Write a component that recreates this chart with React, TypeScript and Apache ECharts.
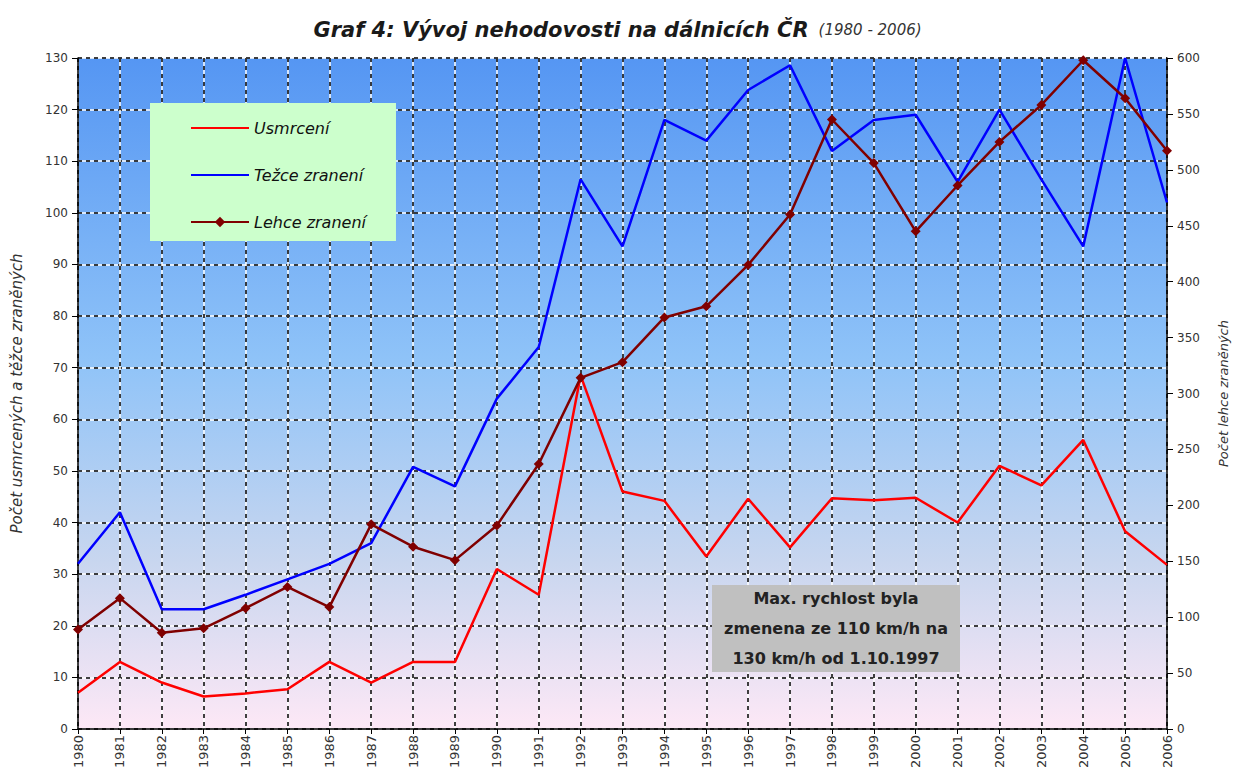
import React, { useEffect, useRef } from "react";
import * as echarts from "echarts";

const years = ["1980","1981","1982","1983","1984","1985","1986","1987","1988","1989","1990","1991","1992","1993","1994","1995","1996","1997","1998","1999","2000","2001","2002","2003","2004","2005","2006"];
const usmrceni = [7, 13, 9, 6.3, 6.9, 7.7, 13, 9, 13, 13, 31, 26, 68.5, 46, 44.2, 33.4, 44.6, 35.2, 44.7, 44.3, 44.8, 40, 51, 47.2, 56, 38.3, 31.8];
const tezce = [32, 42, 23.2, 23.2, 26, 29, 32, 36, 50.8, 47, 64, 74, 106.5, 93.5, 118, 114, 123.8, 128.6, 112, 118, 119, 106, 120, 106.5, 93.5, 130, 102];
const lehce = [89, 117, 86, 90, 108, 127, 109, 183, 163, 151, 182, 237, 314, 328, 368, 378, 415, 460, 545, 506, 445, 486, 525, 558, 598, 564, 517];
const leftTicks = { min: 0, max: 130, interval: 10 };
const rightTicks = { min: 0, max: 600, interval: 50 };
const noteLines = ["Max. rychlost byla", "zmenena ze 110 km/h na", "130 km/h od 1.10.1997"];

const FONT = "DejaVu Sans, Liberation Sans, Arial, sans-serif";

export default function App() {
  const ref = useRef<HTMLDivElement>(null);
  useEffect(() => {
    const chart = echarts.init(ref.current!, null, { renderer: "svg" });
    const grid = { left: 78, right: 68, top: 58, bottom: 47 };
    chart.setOption({
      animation: false,
      backgroundColor: "#ffffff",
      title: {
        text: "{a|Graf 4: Vývoj nehodovosti na dálnicích ČR}  {b|(1980 - 2006)}",
        left: "center",
        top: 14,
        textStyle: {
          rich: {
            a: { fontFamily: FONT, fontSize: 21, fontWeight: "bold", fontStyle: "italic", color: "#1a1a1a" },
            b: { fontFamily: FONT, fontSize: 15, fontWeight: "normal", fontStyle: "italic", color: "#333" },
          },
        },
      },
      grid: {
        ...grid,
        show: true,
        borderWidth: 0,
        outerBoundsMode: "none",
        backgroundColor: {
          type: "linear", x: 0, y: 0, x2: 0, y2: 1,
          colorStops: [
            { offset: 0, color: "#5596f3" },
            { offset: 0.45, color: "#8fc3f8" },
            { offset: 0.75, color: "#c8d6ef" },
            { offset: 1, color: "#fde8f6" },
          ],
        },
      },
      legend: {
        orient: "vertical",
        left: 150,
        top: 103,
        backgroundColor: "#ccffcc",
        padding: [17, 30, 11, 40],
        itemGap: 31,
        itemWidth: 58,
        itemHeight: 13,
        textStyle: { fontFamily: FONT, fontSize: 16, fontStyle: "italic", color: "#111" },
        data: [
          { name: "Usmrcení", itemStyle: { opacity: 0 } },
          { name: "Težce zranení", itemStyle: { opacity: 0 } },
          { name: "Lehce zranení" },
        ],
      },
      xAxis: [
        {
          type: "category",
          position: "bottom",
          data: years,
          boundaryGap: false,
          axisLine: { show: false },
          axisTick: { show: false },
          axisLabel: { show: false },
          splitLine: { show: true, lineStyle: { color: "#ffffff", width: 1.5, type: "solid" } },
        },
        {
          type: "category",
          position: "bottom",
          data: years,
          boundaryGap: false,
          axisLine: { show: true, lineStyle: { color: "#000", width: 1.5 } },
          axisTick: { show: true, inside: false, length: 5, lineStyle: { color: "#000" } },
          axisLabel: { rotate: 90, fontFamily: FONT, fontSize: 13, color: "#333", margin: 6 },
          splitLine: { show: true, lineStyle: { color: "#000", width: 1.5, type: [4, 4] } },
        },
      ],
      yAxis: [
        {
          type: "value", ...leftTicks, position: "left",
          axisLine: { show: false }, axisTick: { show: false }, axisLabel: { show: false },
          splitLine: { show: true, lineStyle: { color: "#ffffff", width: 1.5, type: "solid" } },
        },
        {
          type: "value", ...leftTicks, position: "left",
          name: "Počet usmrcených a těžce zraněných",
          nameLocation: "middle",
          nameGap: 54,
          nameTextStyle: { fontFamily: FONT, fontSize: 15, fontStyle: "italic", color: "#333" },
          axisLine: { show: true, lineStyle: { color: "#000", width: 1.5 } },
          axisTick: { show: true, length: 6, lineStyle: { color: "#000" } },
          axisLabel: { fontFamily: FONT, fontSize: 12, color: "#333", margin: 10 },
          splitLine: { show: true, lineStyle: { color: "#000", width: 1.5, type: [4, 4] } },
        },
        {
          type: "value", ...rightTicks, position: "right",
          name: "Počet lehce zraněných",
          nameLocation: "middle",
          nameGap: 50,
          nameRotate: 90,
          nameTextStyle: { fontFamily: FONT, fontSize: 13, fontStyle: "italic", color: "#333" },
          axisLine: { show: true, lineStyle: { color: "#000", width: 1.5 } },
          axisTick: { show: true, length: 6, lineStyle: { color: "#000" } },
          axisLabel: { fontFamily: FONT, fontSize: 12, color: "#333", margin: 10 },
          splitLine: { show: false },
        },
      ],
      series: [
        {
          name: "Usmrcení", type: "line", xAxisIndex: 1, yAxisIndex: 1, data: usmrceni,
          symbol: "none", lineStyle: { color: "#ff0000", width: 2.5 }, itemStyle: { color: "#ff0000" },
        },
        {
          name: "Težce zranení", type: "line", xAxisIndex: 1, yAxisIndex: 1, data: tezce,
          symbol: "none", lineStyle: { color: "#0000ff", width: 2.5 }, itemStyle: { color: "#0000ff" },
        },
        {
          name: "Lehce zranení", type: "line", xAxisIndex: 1, yAxisIndex: 2, data: lehce,
          symbol: "diamond", symbolSize: 10, showSymbol: true,
          lineStyle: { color: "#800000", width: 2.5 }, itemStyle: { color: "#800000" },
        },
      ],
      graphic: [
        {
          type: "group",
          left: 712,
          top: 583,
          z: 100,
          children: [
            { type: "rect", z: 100, shape: { x: 0, y: 0, width: 248, height: 87 }, style: { fill: "#c0c0c0" } },
            {
              type: "text",
              z: 101,
              x: 124,
              y: 43,
              style: {
                text: noteLines.join("\n"),
                fontFamily: FONT,
                fontSize: 16,
                fontWeight: "bold",
                fill: "#222",
                align: "center",
                verticalAlign: "middle",
                lineHeight: 30,
              },
            },
          ],
        },
      ],
    });
    return () => chart.dispose();
  }, []);
  return <div ref={ref} style={{ width: 1235, height: 776, position: "absolute", left: 0, top: 0 }} />;
}
